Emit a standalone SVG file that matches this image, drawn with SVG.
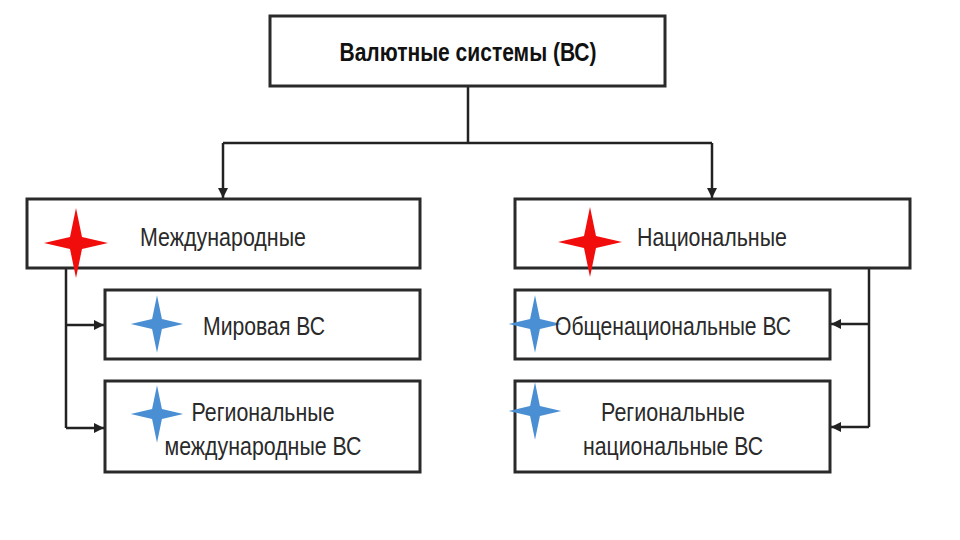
<svg xmlns="http://www.w3.org/2000/svg" width="960" height="540" viewBox="0 0 960 540">
<defs>
<style>
.box{fill:#fff;stroke:#2a2a2a;stroke-width:3}
.ln{fill:none;stroke:#222;stroke-width:2.5}
.t{font-family:"Liberation Sans",Arial,sans-serif;font-size:25px;fill:#2a2a2a;text-anchor:middle;dominant-baseline:central}
.tb{font-weight:bold;fill:#111}
.red{fill:#f20d0d}
.blue{fill:#4a8fd3}
</style>
<marker id="ah" viewBox="0 0 10 10" refX="10" refY="5" markerWidth="12" markerHeight="10" markerUnits="userSpaceOnUse" orient="auto">
<path d="M0,0 L10,5 L0,10 Z" fill="#222"/>
</marker>
<path id="star" d="M-32,0 L-6,-6 L0,-35 L6,-6 L32,0 L6,6 L0,35 L-6,6 Z"/>
</defs>
<rect width="960" height="540" fill="#fff"/>
<g id="connectors">
<path class="ln" d="M468,86 V143 M223,143 H712"/>
<path class="ln" d="M223,143 V198" marker-end="url(#ah)"/>
<path class="ln" d="M712,143 V198" marker-end="url(#ah)"/>
<path class="ln" d="M66,268 V428"/>
<path class="ln" d="M66,325 H104" marker-end="url(#ah)"/>
<path class="ln" d="M66,428 H104" marker-end="url(#ah)"/>
<path class="ln" d="M869,268 V427"/>
<path class="ln" d="M869,324 H831" marker-end="url(#ah)"/>
<path class="ln" d="M869,427 H831" marker-end="url(#ah)"/>
</g>
<g id="root">
<rect class="box" x="270" y="16" width="395" height="70"/>
<text class="t tb" x="468" y="52" textLength="257" lengthAdjust="spacingAndGlyphs">Валютные системы (ВС)</text>
</g>
<g id="international">
<rect class="box" x="27" y="199" width="393" height="69"/>
<use href="#star" class="red" transform="translate(76,243)"/>
<text class="t" x="223" y="237" textLength="166" lengthAdjust="spacingAndGlyphs">Международные</text>
</g>
<g id="national">
<rect class="box" x="515" y="199" width="395" height="69"/>
<use href="#star" class="red" transform="translate(590,242)"/>
<text class="t" x="712" y="237" textLength="150" lengthAdjust="spacingAndGlyphs">Национальные</text>
</g>
<g id="world">
<rect class="box" x="105" y="290" width="315" height="69"/>
<use href="#star" class="blue" transform="translate(157,324) scale(0.82)"/>
<text class="t" x="264" y="326" textLength="122" lengthAdjust="spacingAndGlyphs">Мировая ВС</text>
</g>
<g id="regional-international">
<rect class="box" x="105" y="381" width="315" height="91"/>
<use href="#star" class="blue" transform="translate(157,414) scale(0.82)"/>
<text class="t" x="263" y="412" textLength="143" lengthAdjust="spacingAndGlyphs">Региональные</text>
<text class="t" x="263" y="446" textLength="197" lengthAdjust="spacingAndGlyphs">международные ВС</text>
</g>
<g id="all-national">
<rect class="box" x="515" y="290" width="315" height="69"/>
<use href="#star" class="blue" transform="translate(535,324) scale(0.82)"/>
<text class="t" x="673" y="326" textLength="236" lengthAdjust="spacingAndGlyphs">Общенациональные ВС</text>
</g>
<g id="regional-national">
<rect class="box" x="515" y="381" width="315" height="91"/>
<use href="#star" class="blue" transform="translate(535,411) scale(0.82)"/>
<text class="t" x="673" y="412" textLength="144" lengthAdjust="spacingAndGlyphs">Региональные</text>
<text class="t" x="673" y="446" textLength="180" lengthAdjust="spacingAndGlyphs">национальные ВС</text>
</g>
</svg>
